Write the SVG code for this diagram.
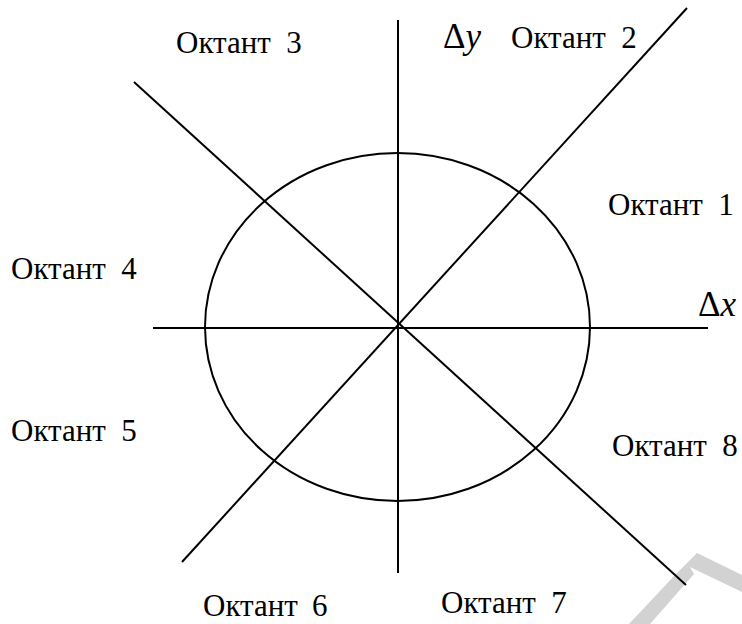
<svg xmlns="http://www.w3.org/2000/svg" width="742" height="624" viewBox="0 0 742 624">
<style>
.ln{stroke:#000;stroke-width:2;fill:none}
text{font-family:'Liberation Serif','Times New Roman',serif;fill:#000;white-space:pre}
.lb{font-size:31px}
.ax{font-size:35px}
.wm{fill:#d2d2d2;stroke:none}
</style>
<rect width="742" height="624" fill="#fff"/>
<polygon class="wm" points="629,624 676,574 688,562 697,553 742,575 742,592 690,567 694,574 650,624"/>
<g id="connectors">
<line class="ln" x1="153" y1="328" x2="708" y2="328"/>
<line class="ln" x1="398" y1="20" x2="398" y2="573"/>
<line class="ln" x1="687" y1="8" x2="182" y2="562"/>
<line class="ln" x1="134" y1="82" x2="686" y2="585"/>
</g>
<g id="circle">
<ellipse class="ln" cx="397.5" cy="327" rx="192.5" ry="174"/>
</g>
<g id="labels">
<text class="lb" x="176" y="53">Октант  3</text>
<text class="ax" x="443" y="48">Δ<tspan font-style="italic">y</tspan></text>
<text class="lb" x="511" y="48">Октант  2</text>
<text class="lb" x="608" y="215">Октант  1</text>
<text class="ax" x="698" y="316">Δ<tspan font-style="italic">x</tspan></text>
<text class="lb" x="11" y="279">Октант  4</text>
<text class="lb" x="11" y="441">Октант  5</text>
<text class="lb" x="612" y="456">Октант  8</text>
<text class="lb" x="203" y="616">Октант <tspan x="312">6</tspan></text>
<text class="lb" x="441" y="613">Октант  7</text>
</g>
</svg>
